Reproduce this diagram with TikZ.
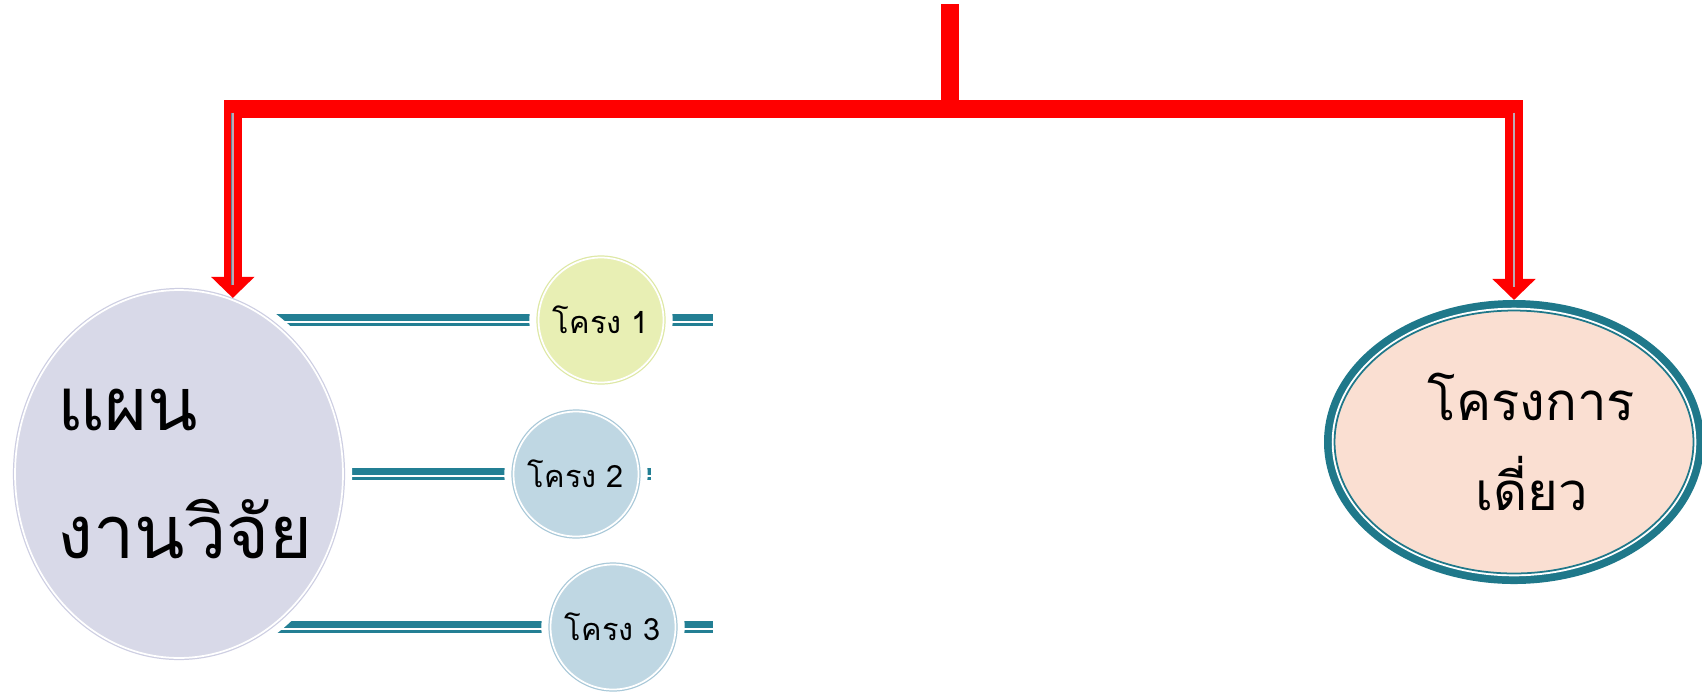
\documentclass[tikz,border=0pt]{standalone}
\usepackage{fontspec}
\newfontfamily\thaifont[Script=Thai]{Loma}
\usetikzlibrary{arrows.meta,shapes.geometric,backgrounds}

\definecolor{railteal}{RGB}{35,127,148}
\definecolor{rimteal}{RGB}{31,120,138}
\definecolor{planfill}{RGB}{216,217,232}
\definecolor{planrim}{RGB}{205,206,226}
\definecolor{limefill}{RGB}{232,239,180}
\definecolor{limerim}{RGB}{222,232,165}
\definecolor{skyfill}{RGB}{191,215,227}
\definecolor{skyrim}{RGB}{168,200,216}
\definecolor{peach}{RGB}{250,223,210}
\definecolor{wirecol}{RGB}{95,135,155}
\definecolor{wirecore}{RGB}{190,170,180}

\begin{document}
\begin{tikzpicture}[
            x = 0.02cm, y = -0.02cm,
            plan/.style = {
                ellipse, fill = planfill, draw = white, line width = 1pt,
                minimum width = 6.56cm, minimum height = 7.36cm,
                inner sep = 0pt, outer sep = 1.2pt,
                preaction = {draw = white, line width = 10.4pt},
                preaction = {draw = planrim, line width = 2.4pt},
            },
            planlabel/.style = {
                font = \thaifont\fontsize{42}{73}\selectfont,
                align = left, xshift = 3.4pt,
            },
            bubble/.style = {
                circle, fill = #1fill, draw = white, line width = 1pt,
                minimum size = 2.5cm, inner sep = 0pt, outer sep = 1.2pt,
                font = \thaifont\fontsize{17.5}{21}\selectfont,
                preaction = {draw = white, line width = 10.4pt},
                preaction = {draw = #1rim, line width = 2.4pt},
            },
            single/.style = {
                ellipse, fill = peach, draw = rimteal, line width = 1pt,
                minimum width = 7.18cm, minimum height = 5.26cm,
                inner sep = 0pt, outer sep = 6pt,
                preaction = {draw = rimteal, line width = 12pt},
                preaction = {draw = white, line width = 3.2pt},
            },
            singlelabel/.style = {
                font = \thaifont\fontsize{30}{51}\selectfont,
                align = center, xshift = 10pt,
            },
            rail/.style = {
                draw = railteal, line width = 6.3pt,
                postaction = {draw = white, line width = 1pt,
                    transform canvas = {yshift = -1pt}},
            },
            redbar/.style = {draw = red, line width = 10.5pt},
            redarrow/.style = {redbar, -{Triangle[width = 24pt, length = 12pt]}},
            wire/.style = {
                draw = wirecol, line width = 0.35pt,
                double = wirecore, double distance = 0.9pt,
            },
        ]

        \useasboundingbox (0,0) rectangle (1702,691);

        % Plan and single project
        \node[plan, label = {[planlabel]center:{แผน\\งานวิจัย}}] (plan) at (179,474) {};
        \node[single, label = {[singlelabel]center:{โครงการ\\เดี่ยว}}] (single) at (1514,442) {};

        % Projects in the plan
        \node[bubble = lime] (p1) at (601,320) {โครง 1};
        \node[bubble = sky] (p2) at (576,474) {โครง 2};
        \node[bubble = sky] (p3) at (613,627) {โครง 3};

        \coordinate (e1) at (713,320);
        \coordinate (e2) at (651,474);
        \coordinate (e3) at (713,627);

        \begin{scope}[on background layer]
            \draw[rail] (plan |- p1) -- (p1) -- (e1);
            \draw[rail] (plan |- p2) -- (p2) -- (e2);
            \draw[rail] (plan |- p3) -- (p3) -- (e3);
        \end{scope}

        % Red connector
        \coordinate (top) at (950,4);
        \coordinate (hub) at (950,109);

        \draw[redbar] (top) -- (hub);
        \draw[redarrow] (hub) -| (plan.73.4);
        \draw[redarrow] (hub) -| (single.north);

        \draw[wire] ([yshift = -2pt]hub -| plan.73.4) -- ([yshift = 7.4pt]plan.73.4);
        \draw[wire] ([yshift = -2pt]hub -| single.north) -- ([yshift = 7.4pt]single.north);

    \end{tikzpicture}
\end{document}
